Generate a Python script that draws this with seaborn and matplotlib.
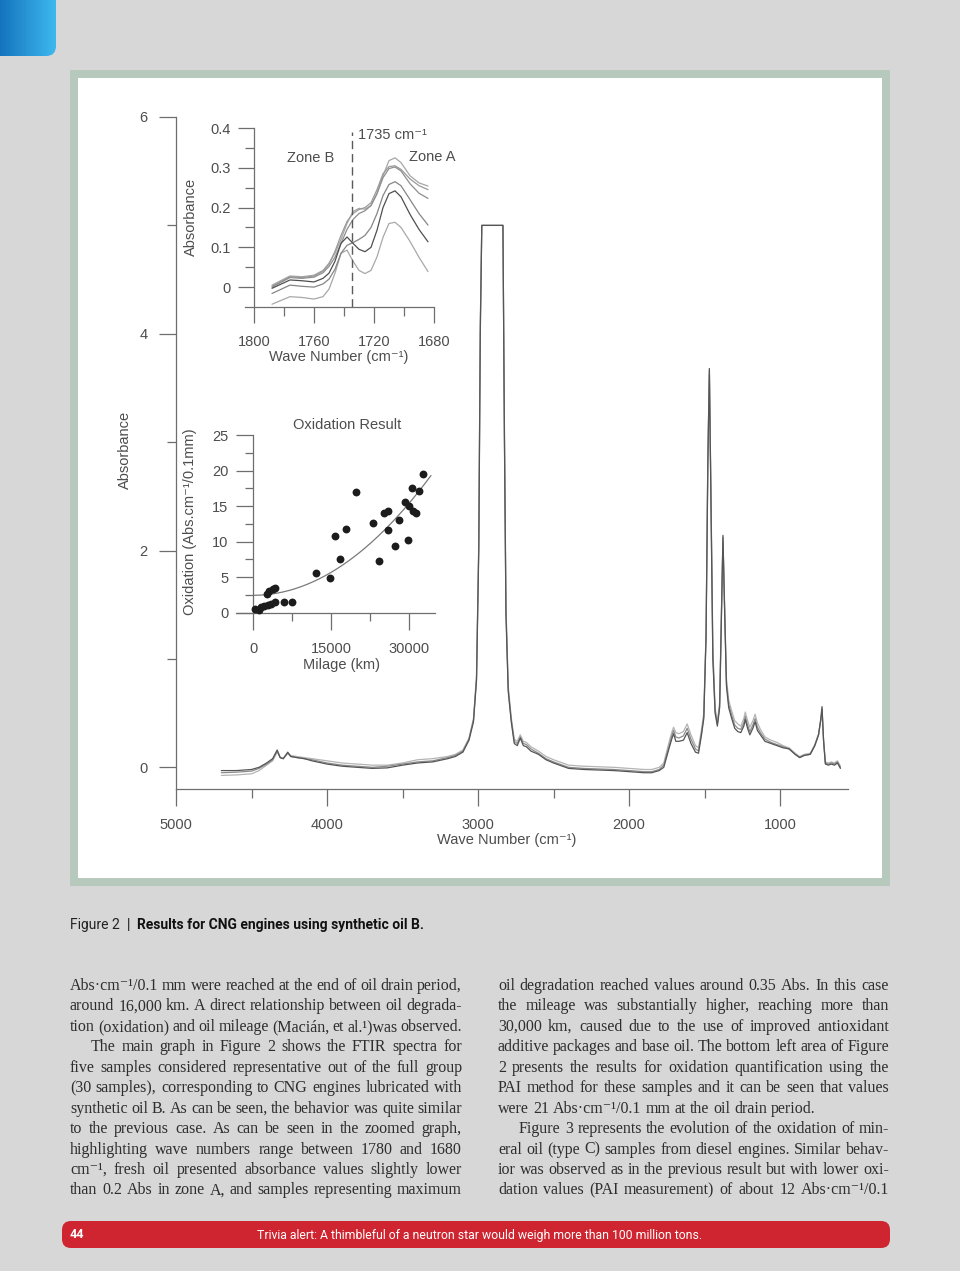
import numpy as np
import matplotlib
matplotlib.use("Agg")
import matplotlib.pyplot as plt
import matplotlib.patches as mpatches
from matplotlib import font_manager
from matplotlib.colors import LinearSegmentedColormap
from matplotlib.ticker import MultipleLocator, FixedLocator
import seaborn as sns

# ---- main graph: FTIR spectra (wave number cm-1 / absorbance) ----
wavenumber = [4700, 4600, 4500, 4450, 4400, 4360, 4330, 4310, 4290, 4260,
              4240, 4200, 4150, 4100, 4000, 3900, 3800, 3700, 3600, 3500,
              3400, 3300, 3200, 3150, 3100, 3060, 3030, 3010, 2995, 2985,
              2975, 2960, 2900, 2850, 2835, 2825, 2815, 2800, 2780, 2760,
              2740, 2720, 2700, 2680, 2650, 2600, 2550, 2500, 2400, 2300,
              2200, 2100, 2000, 1900, 1850, 1800, 1770, 1750, 1730, 1715,
              1705, 1690, 1670, 1640, 1615, 1590, 1560, 1540, 1520, 1505,
              1490, 1478, 1468, 1458, 1445, 1430, 1415, 1400, 1388, 1378,
              1368, 1355, 1340, 1320, 1300, 1280, 1260, 1240, 1230, 1215,
              1200, 1180, 1165, 1150, 1130, 1100, 1060, 1020, 980, 940,
              900, 870, 840, 800, 770, 745, 730, 722, 712, 700,
              680, 660, 640, 620, 600]
abs_dark = [-0.03, -0.03, -0.02, 0.00, 0.04, 0.08, 0.16, 0.09, 0.08, 0.14,
            0.10, 0.09, 0.08, 0.06, 0.03, 0.01, 0.00, -0.01, -0.005, 0.02,
            0.04, 0.05, 0.08, 0.10, 0.14, 0.25, 0.42, 0.80, 2.00, 4.00,
            5.00, 5.00, 5.00, 5.00, 5.00, 3.00, 1.40, 0.70, 0.42, 0.22,
            0.20, 0.27, 0.20, 0.19, 0.15, 0.12, 0.07, 0.04, -0.01, -0.02,
            -0.025, -0.03, -0.04, -0.05, -0.05, -0.03, 0.00, 0.10, 0.20, 0.27,
            0.31, 0.24, 0.24, 0.25, 0.32, 0.22, 0.14, 0.13, 0.30, 0.45,
            1.20, 2.80, 3.68, 2.50, 1.00, 0.50, 0.38, 0.55, 1.40, 2.14,
            1.50, 0.75, 0.55, 0.45, 0.36, 0.33, 0.32, 0.38, 0.44, 0.36,
            0.30, 0.36, 0.42, 0.34, 0.30, 0.24, 0.22, 0.20, 0.18, 0.17,
            0.12, 0.09, 0.11, 0.12, 0.20, 0.30, 0.45, 0.56, 0.25, 0.03,
            0.02, 0.03, 0.02, 0.04, -0.01]
abs_mid = [-0.05, -0.045, -0.035, -0.01, 0.03, 0.07, 0.15, 0.09, 0.08, 0.13,
           0.10, 0.09, 0.08, 0.07, 0.04, 0.02, 0.01, 0.00, 0.01, 0.03,
           0.05, 0.06, 0.09, 0.11, 0.15, 0.26, 0.44, 0.82, 2.05, 4.05,
           5.00, 5.00, 5.00, 5.00, 5.00, 3.05, 1.45, 0.72, 0.44, 0.24,
           0.22, 0.28, 0.22, 0.21, 0.17, 0.13, 0.08, 0.05, 0.00, -0.01,
           -0.015, -0.02, -0.03, -0.04, -0.04, -0.02, 0.02, 0.12, 0.22, 0.30,
           0.34, 0.28, 0.27, 0.29, 0.36, 0.26, 0.17, 0.15, 0.32, 0.47,
           1.22, 2.85, 3.66, 2.55, 1.05, 0.52, 0.40, 0.57, 1.42, 2.12,
           1.52, 0.78, 0.58, 0.48, 0.39, 0.36, 0.35, 0.41, 0.47, 0.39,
           0.33, 0.39, 0.45, 0.37, 0.32, 0.26, 0.23, 0.21, 0.19, 0.17,
           0.12, 0.09, 0.11, 0.12, 0.20, 0.30, 0.44, 0.54, 0.25, 0.04,
           0.03, 0.04, 0.03, 0.05, 0.00]
abs_light = [-0.075, -0.07, -0.06, -0.03, 0.02, 0.06, 0.14, 0.09, 0.08, 0.13,
             0.11, 0.10, 0.09, 0.08, 0.06, 0.04, 0.03, 0.02, 0.02, 0.04,
             0.07, 0.08, 0.10, 0.12, 0.16, 0.27, 0.45, 0.85, 2.10, 4.10,
             5.00, 5.00, 5.00, 5.00, 5.00, 3.10, 1.50, 0.75, 0.46, 0.26,
             0.24, 0.30, 0.24, 0.23, 0.19, 0.15, 0.10, 0.07, 0.02, 0.01,
             0.005, 0.00, -0.01, -0.02, -0.02, 0.00, 0.04, 0.15, 0.26, 0.33,
             0.37, 0.32, 0.31, 0.33, 0.40, 0.30, 0.20, 0.18, 0.35, 0.50,
             1.25, 2.90, 3.62, 2.60, 1.10, 0.55, 0.42, 0.60, 1.45, 2.08,
             1.55, 0.82, 0.62, 0.52, 0.43, 0.40, 0.38, 0.45, 0.51, 0.43,
             0.37, 0.43, 0.49, 0.41, 0.35, 0.28, 0.25, 0.23, 0.20, 0.18,
             0.13, 0.10, 0.12, 0.13, 0.21, 0.31, 0.43, 0.52, 0.26, 0.05,
             0.04, 0.05, 0.04, 0.06, 0.01]

# ---- top inset: zoom on carbonyl zone ----
zoom_wn = [1788, 1776, 1768, 1760, 1754, 1750, 1746, 1742, 1738, 1734, 1730,
           1726, 1722, 1718, 1714, 1710, 1706, 1702, 1696, 1690, 1684]
zoom_a = [0.005, 0.028, 0.026, 0.030, 0.042, 0.060, 0.085, 0.120, 0.160, 0.190, 0.198,
          0.196, 0.205, 0.235, 0.280, 0.318, 0.325, 0.313, 0.280, 0.262, 0.254]
zoom_b = [0.002, 0.026, 0.024, 0.028, 0.040, 0.058, 0.090, 0.130, 0.165, 0.185, 0.195,
          0.200, 0.212, 0.245, 0.285, 0.303, 0.305, 0.296, 0.272, 0.255, 0.245]
zoom_c = [0.000, 0.024, 0.022, 0.025, 0.036, 0.052, 0.075, 0.110, 0.145, 0.170, 0.185,
          0.192, 0.205, 0.235, 0.275, 0.298, 0.302, 0.292, 0.260, 0.236, 0.223]
zoom_d = [-0.016, 0.005, 0.002, 0.000, 0.008, 0.020, 0.045, 0.085, 0.105, 0.112, 0.120,
          0.130, 0.150, 0.185, 0.230, 0.258, 0.265, 0.255, 0.220, 0.185, 0.156]
zoom_e = [-0.003, 0.018, 0.016, 0.013, 0.022, 0.035, 0.065, 0.110, 0.126, 0.110, 0.095,
          0.089, 0.100, 0.143, 0.200, 0.235, 0.242, 0.227, 0.183, 0.145, 0.114]
zoom_f = [-0.043, -0.024, -0.026, -0.030, -0.024, -0.005, 0.035, 0.085, 0.093, 0.065, 0.042,
          0.034, 0.042, 0.076, 0.125, 0.160, 0.163, 0.150, 0.115, 0.075, 0.039]
carbonyl_wn = 1735

# ---- bottom inset: oxidation (PAI) vs mileage ----
milage_km = [260, 1160, 1480, 2120, 2830, 3410, 2575, 3090, 3730, 4250,
             4120, 5990, 7470, 12170, 14870, 15770, 16800, 17900, 19890, 23180,
             24330, 25170, 25940, 25940, 27420, 28130, 29350, 29800, 30130, 30640,
             30770, 31420, 31930, 32840]
oxidation = [0.47, 0.38, 0.75, 0.94, 1.08, 1.17, 2.63, 3.10, 3.28, 3.42,
             1.45, 1.45, 1.45, 5.58, 4.83, 10.79, 7.55, 11.82, 17.03, 12.66,
             7.32, 14.03, 14.35, 11.59, 9.33, 13.09, 15.53, 10.27, 15.00, 17.54,
             14.31, 14.07, 17.12, 19.47]
fit_end_km = 34300

# ---- page text ----
body_left = [
    ("Abs·cm⁻¹/0.1 mm were reached at the end of oil drain period,", False, True),
    ("around 16,000 km. A direct relationship between oil degrada-", False, True),
    ("tion (oxidation) and oil mileage (Macián, et al.¹)was observed.", False, True),
    ("The main graph in Figure 2 shows the FTIR spectra for", True, True),
    ("five samples considered representative out of the full group", False, True),
    ("(30 samples), corresponding to CNG engines lubricated with", False, True),
    ("synthetic oil B. As can be seen, the behavior was quite similar", False, True),
    ("to the previous case. As can be seen in the zoomed graph,", False, True),
    ("highlighting wave numbers range between 1780 and 1680", False, True),
    ("cm⁻¹, fresh oil presented absorbance values slightly lower", False, True),
    ("than 0.2 Abs in zone A, and samples representing maximum", False, True),
]
body_right = [
    ("oil degradation reached values around 0.35 Abs. In this case", False, True),
    ("the mileage was substantially higher, reaching more than", False, True),
    ("30,000 km, caused due to the use of improved antioxidant", False, True),
    ("additive packages and base oil. The bottom left area of Figure", False, True),
    ("2 presents the results for oxidation quantification using the", False, True),
    ("PAI method for these samples and it can be seen that values", False, True),
    ("were 21 Abs·cm⁻¹/0.1 mm at the oil drain period.", False, False),
    ("Figure 3 represents the evolution of the oxidation of min-", True, True),
    ("eral oil (type C) samples from diesel engines. Similar behav-", False, True),
    ("ior was observed as in the previous result but with lower oxi-", False, True),
    ("dation values (PAI measurement) of about 12 Abs·cm⁻¹/0.1", False, True),
]
caption_num = "Figure 2"
caption_txt = "Results for CNG engines using synthetic oil B."
page_number = "44"
footer_txt = "Trivia alert: A thimbleful of a neutron star would weigh more than 100 million tons."

# ---- style ----
sns.set_style("ticks")
plt.rcParams["font.family"] = ["Liberation Sans", "DejaVu Sans"]
installed = {f.name for f in font_manager.fontManager.ttflist}
narrow = "Liberation Sans Narrow" if "Liberation Sans Narrow" in installed else "Roboto"
serif = ["Liberation Serif", "DejaVu Serif"]

ink = "#4d4d4d"
axis_grey = "#6e6e6e"

fig = plt.figure(figsize=(9.6, 12.71), dpi=100)
fig.patch.set_facecolor("#d7d7d7")

# page layer in pixel coordinates
page = fig.add_axes([0, 0, 1, 1])
page.set_xlim(0, 960)
page.set_ylim(1271, 0)
page.axis("off")
renderer = fig.canvas.get_renderer()

tab = mpatches.FancyBboxPatch((-20, -20), 76, 76, boxstyle="round,pad=0,rounding_size=10",
                              fc="none", ec="none")
page.add_patch(tab)
grad = page.imshow(np.linspace(0, 1, 64).reshape(1, -1), extent=(0, 56, 56, 0), aspect="auto",
                   cmap=LinearSegmentedColormap.from_list("tab", ["#1574be", "#3db8ee"]))
grad.set_clip_path(tab)

page.add_patch(mpatches.Rectangle((70, 70), 820, 816, fc="#b7c9bd", ec="none"))
page.add_patch(mpatches.Rectangle((78, 78), 804, 800, fc="white", ec="none"))

page.add_patch(mpatches.FancyBboxPatch((62, 1221), 828, 27, boxstyle="round,pad=0,rounding_size=9",
                                       fc="#cf2530", ec="none"))
page.text(70, 1235, page_number, color="white", fontsize=9, fontweight="bold",
          family=narrow, va="center", ha="left")
page.text(480, 1235, footer_txt, color="white", fontsize=8.8, family=narrow, va="center", ha="center")

# caption: pieces placed one after another
cap_x = 70
for piece, weight, col in ((caption_num, "normal", "#222222"), ("|", "bold", "#222222"),
                           (caption_txt, "bold", "#111111")):
    t = page.text(cap_x, 929, piece, color=col, fontsize=10, family=narrow,
                  fontweight=weight, va="baseline")
    cap_x += t.get_window_extent(renderer).width + 7

body_style = dict(fontsize=11.5, family=serif, color="#2e2e2e")


def put_line(x0, x1, y, text, justify):
    words = text.split()
    parts = [page.text(0, y, w, ha="left", va="baseline", **body_style) for w in words]
    widths = [p.get_window_extent(renderer).width for p in parts]
    gap = body_style["fontsize"] * 0.25 * 100 / 72
    if justify and len(words) > 1:
        gap = (x1 - x0 - sum(widths)) / (len(words) - 1)
    x = x0
    for p, w in zip(parts, widths):
        p.set_x(x)
        x += w + gap


for col_x0, col_x1, lines in ((70, 462, body_left), (498, 889, body_right)):
    for i, (txt, indent, justify) in enumerate(lines):
        put_line(col_x0 + (21 if indent else 0), col_x1, 990 + i * 20.45, txt, justify)


def style_axes(a, major=12.5, minor=6.5, xpad=8.5, ypad=5.5):
    sns.despine(ax=a)
    a.patch.set_alpha(0)
    for s in ("left", "bottom"):
        a.spines[s].set_color(axis_grey)
        a.spines[s].set_linewidth(0.9)
    a.tick_params(which="both", direction="out", color=axis_grey, width=0.9,
                  labelsize=10.5, labelcolor=ink)
    a.tick_params(which="major", length=major)
    a.tick_params(which="minor", length=minor)
    a.tick_params(axis="x", pad=xpad)
    a.tick_params(axis="y", pad=ypad)


# ---- main graph ----
ax = fig.add_axes([176 / 960, 1 - 789 / 1271, 672 / 960, 672 / 1271])
for series, col in ((abs_light, "#b4b4b4"), (abs_mid, "#8c8c8c"), (abs_dark, "#555555")):
    sns.lineplot(x=wavenumber, y=series, ax=ax, color=col, lw=0.9, sort=False, estimator=None)
ax.set_xlim(5000, 550)
ax.set_ylim(-0.2, 6)
ax.set_xticks([5000, 4000, 3000, 2000, 1000], labels=["5000", "4000", "3000", "2000", "1000"])
ax.xaxis.set_minor_locator(MultipleLocator(500))
ax.set_yticks([0, 2, 4, 6], labels=["0", "2", "4", "6"])
ax.yaxis.set_minor_locator(MultipleLocator(1))
style_axes(ax, ypad=8)
ax.set_xlabel("Wave Number (cm⁻¹)", fontsize=10.5, color=ink)
ax.set_ylabel("Absorbance", fontsize=10.5, color=ink)
ax.xaxis.set_label_coords(0.4926, -0.076)
ax.yaxis.set_label_coords(-0.076, 0.5045)
ax.xaxis.label.set_va("center")
ax.yaxis.label.set_va("center")

# ---- top inset: carbonyl zone ----
ax1 = fig.add_axes([245 / 960, 1 - 307 / 1271, 189 / 960, 179 / 1271])
zoom_styles = ((zoom_f, "#a8a8a8"), (zoom_a, "#a6a6a6"), (zoom_b, "#9a9a9a"),
               (zoom_c, "#8e8e8e"), (zoom_d, "#858585"), (zoom_e, "#4f4f4f"))
for series, col in zoom_styles:
    sns.lineplot(x=zoom_wn, y=series, ax=ax1, color=col, lw=0.9, sort=False, estimator=None)
ax1.axvline(carbonyl_wn, ymax=0.975, color="#5a5a5a", lw=1.0, ls=(0, (6, 3.5)))
ax1.set_xlim(1806, 1680)
ax1.set_ylim(-0.05, 0.4)
ax1.set_xticks([1800, 1760, 1720, 1680], labels=["1800", "1760", "1720", "1680"])
ax1.xaxis.set_minor_locator(FixedLocator([1780, 1740, 1700]))
ax1.set_yticks([0, 0.1, 0.2, 0.3, 0.4], labels=["0", "0.1", "0.2", "0.3", "0.4"])
ax1.yaxis.set_minor_locator(FixedLocator([0.05, 0.15, 0.25, 0.35]))
style_axes(ax1, major=11.5, minor=6.5, ypad=5)
ax1.spines["left"].set_position(("data", 1800))
ax1.set_xlabel("Wave Number (cm⁻¹)", fontsize=10.5, color=ink)
ax1.set_ylabel("Absorbance", fontsize=10.5, color=ink)
ax1.xaxis.set_label_coords(0.497, -0.279)
ax1.yaxis.set_label_coords(-0.286, 0.503)
ax1.xaxis.label.set_va("center")
ax1.yaxis.label.set_va("center")
ax1.text(1730.7, 0.382, "1735 cm⁻¹", fontsize=10.5, color=ink, ha="left", va="center")
ax1.text(1762, 0.324, "Zone B", fontsize=10.5, color=ink, ha="center", va="center")
ax1.text(1681.3, 0.327, "Zone A", fontsize=10.5, color=ink, ha="center", va="center")

# ---- bottom inset: oxidation result ----
ax2 = fig.add_axes([236 / 960, 1 - 612.7 / 1271, 198.6 / 960, 177.7 / 1271])
sns.scatterplot(x=milage_km, y=oxidation, ax=ax2, color="#1c1c1c", s=32, linewidth=0,
                clip_on=False, zorder=3)
# trend line: least-squares fit  oxidation = c0 + c2 * km^2
km = np.asarray(milage_km, dtype=float)
design = np.column_stack([np.ones_like(km), km ** 2])
(c0, c2), *_ = np.linalg.lstsq(design, np.asarray(oxidation), rcond=None)
km_fit = np.linspace(0, fit_end_km, 150)
sns.lineplot(x=km_fit, y=c0 + c2 * km_fit ** 2, ax=ax2, color="#7a7a7a", lw=0.9)
ax2.set_xlim(-3350, 35000)
ax2.set_ylim(0, 25)
ax2.set_xticks([0, 15000, 30000], labels=["0", "15000", "30000"])
ax2.xaxis.set_minor_locator(FixedLocator([7500, 22500]))
ax2.set_yticks([0, 5, 10, 15, 20, 25], labels=["0", "5", "10", "15", "20", "25"])
ax2.yaxis.set_minor_locator(FixedLocator([2.5, 7.5, 12.5, 17.5, 22.5]))
style_axes(ax2, major=12, minor=6, xpad=9, ypad=6)
ax2.spines["left"].set_position(("data", 0))
ax2.set_xlabel("Milage (km)", fontsize=10.5, color=ink)
ax2.set_ylabel("Oxidation (Abs.cm⁻¹/0.1mm)", fontsize=10.5, color=ink)
ax2.xaxis.set_label_coords(0.529, -0.294)
ax2.yaxis.set_label_coords(-0.232, 0.51)
ax2.xaxis.label.set_va("center")
ax2.yaxis.label.set_va("center")
ax2.text(0.559, 1.056, "Oxidation Result", transform=ax2.transAxes, fontsize=10.5, color=ink,
         ha="center", va="center")

fig.savefig("out.png", dpi=100)
